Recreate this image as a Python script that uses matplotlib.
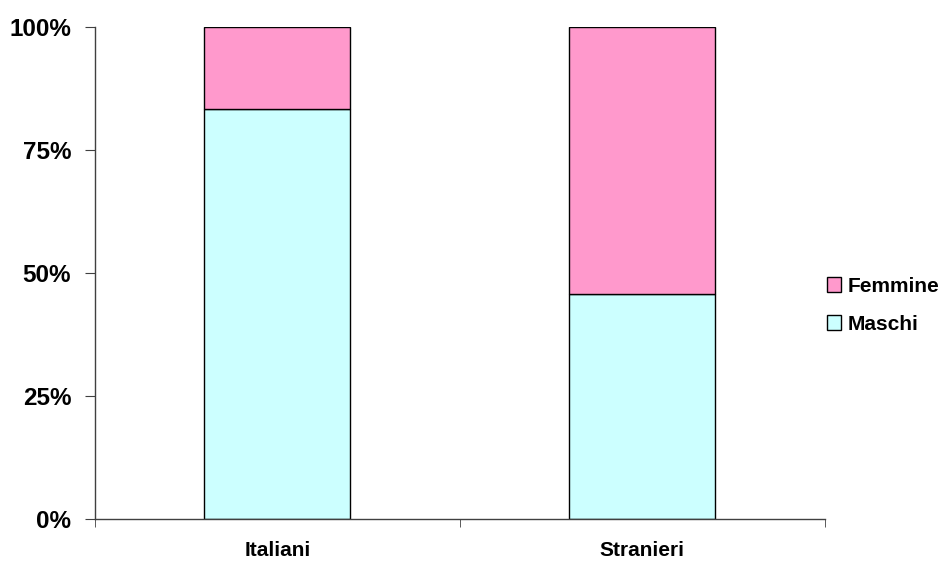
import matplotlib.pyplot as plt
from matplotlib.ticker import FixedLocator, PercentFormatter

categories = ["Italiani", "Stranieri"]
maschi = [83.3, 45.7]
femmine = [16.7, 54.3]

plt.rcParams['font.family'] = ['Liberation Sans', 'DejaVu Sans']
plt.rcParams['font.weight'] = 'bold'

fig = plt.figure(figsize=(9.48, 5.61), dpi=100)
ax = fig.add_axes([0.1, 0.075, 0.77, 0.877])

x = range(len(categories))
ax.bar(x, maschi, 0.4, color='#CCFFFF', edgecolor='black', linewidth=1, label='Maschi')
ax.bar(x, femmine, 0.4, bottom=maschi, color='#FF99CC', edgecolor='black', linewidth=1, label='Femmine')

ax.set_xlim(-0.5, 1.5)
ax.set_ylim(0, 100)
ax.set_yticks([0, 25, 50, 75, 100])
ax.yaxis.set_major_formatter(PercentFormatter(decimals=0))
ax.set_xticks(list(x), labels=categories)
ax.xaxis.set_minor_locator(FixedLocator([-0.5, 0.5, 1.5]))
ax.tick_params(axis='x', which='major', length=0, pad=16, labelsize=15)
ax.tick_params(axis='x', which='minor', length=6, direction='out', color='#404040')
ax.tick_params(axis='y', length=7, direction='out', color='#404040', labelsize=17.5, pad=10)

for s in ['top', 'right']:
    ax.spines[s].set_visible(False)
for s in ['left', 'bottom']:
    ax.spines[s].set_color('#404040')
    ax.spines[s].set_linewidth(1)

handles, labels = ax.get_legend_handles_labels()
ax.legend(handles[::-1], labels[::-1], loc='center left', bbox_to_anchor=(0.872, 0.456),
          bbox_transform=fig.transFigure, frameon=False, fontsize=15,
          handlelength=0.7, handleheight=0.7, handletextpad=0.3,
          labelspacing=0.9, borderpad=0, borderaxespad=0)

fig.savefig("out.png", dpi=100)
